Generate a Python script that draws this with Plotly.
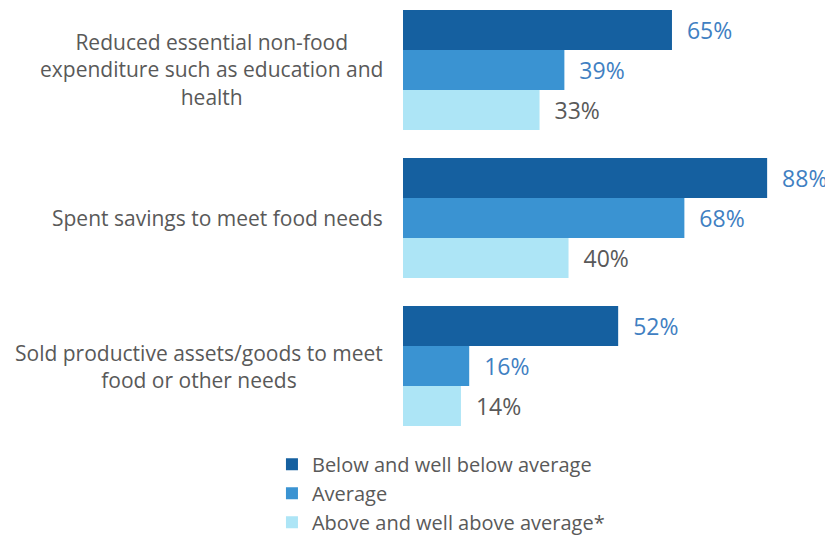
import plotly.graph_objects as go

categories = [
    "Reduced essential non-food<br>expenditure such as education and<br>health",
    "Spent savings to meet food needs",
    "Sold productive assets/goods to meet<br>food or other needs",
]
series_names = [
    "Below and well below average",
    "Average",
    "Above and well above average*",
]
below_vals = [65, 88, 52]
average_vals = [39, 68, 16]
above_vals = [33, 40, 14]

bar_colors = ["#1560a0", "#3a93d2", "#ade5f6"]
label_colors = ["#3f80c2", "#3f80c2", "#595959"]
FONT = "'Open Sans', 'Noto Sans', sans-serif"

fig = go.Figure()
for name, vals, color, lcolor in zip(
    series_names, [below_vals, average_vals, above_vals], bar_colors, label_colors
):
    fig.add_trace(
        go.Bar(
            x=vals,
            y=categories,
            orientation="h",
            name=name,
            marker={"color": color, "line": {"width": 0}},
            text=[f"\u00a0\u00a0{v}%" for v in vals],
            textposition="outside",
            textfont={"color": lcolor, "size": 23, "family": FONT},
            constraintext="none",
            cliponaxis=False,
        )
    )

# category labels as centred annotations (tick labels would be right-aligned)
for cat in categories:
    fig.add_annotation(
        x=0, xref="paper", y=cat, yref="y",
        text=cat, showarrow=False,
        xanchor="right", align="center", xshift=-18,
        font={"size": 21, "color": "#595959", "family": FONT},
    )

# the page body has an 8px margin, so the figure is 8px smaller than the window
fig.update_layout(
    width=825,
    height=529,
    barmode="group",
    bargap=0.19,
    bargroupgap=0,
    plot_bgcolor="white",
    paper_bgcolor="white",
    font={"family": FONT, "color": "#595959"},
    margin={"l": 395, "r": 10, "t": 2, "b": 107, "autoexpand": False},
    xaxis={"range": [0, 101.5], "visible": False},
    yaxis={
        "type": "category",
        "range": [2.432, -0.405],
        "showticklabels": False,
        "showgrid": False,
        "zeroline": False,
        "showline": False,
        "ticks": "",
    },
    legend={
        "x": -0.312,
        "xanchor": "left",
        "y": -0.035,
        "yanchor": "top",
        "orientation": "v",
        "traceorder": "normal",
        "font": {"size": 20, "color": "#595959", "family": FONT},
        "itemwidth": 30,
        "tracegroupgap": 0,
    },
)

fig.write_html("out.html")
